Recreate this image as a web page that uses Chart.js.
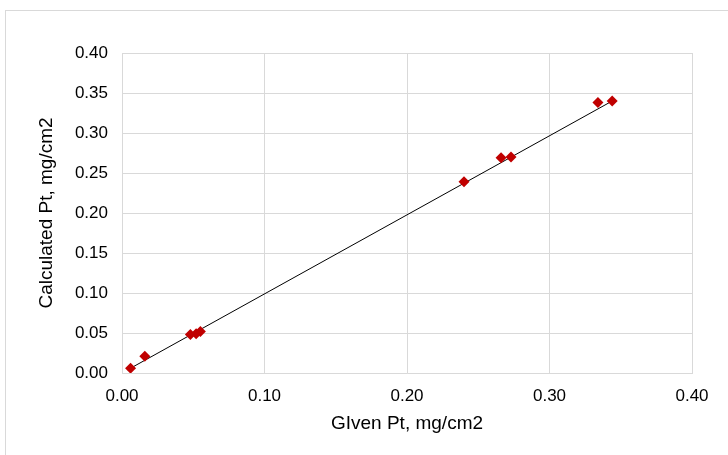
<!DOCTYPE html>
<html>
<head>
<meta charset="utf-8">
<script src="https://cdn.jsdelivr.net/npm/chart.js@4.4.0/dist/chart.umd.min.js"></script>
<style>
  html, body { margin: 0; padding: 0; background: #fff; }
  body { width: 728px; height: 455px; position: relative; overflow: hidden; }
  #frame { position: absolute; left: 5px; top: 10px; width: 760px; height: 480px; border: 1px solid #d9d9d9; }
  #wrap { position: absolute; left: 0; top: 0; width: 728px; height: 455px; }
</style>
</head>
<body>
<div id="frame"></div>
<div id="wrap"><canvas id="chart"></canvas></div>
<script>
const givenPt = [0.006, 0.016, 0.048, 0.052, 0.055, 0.240, 0.266, 0.273, 0.334, 0.344];
const calcPt  = [0.006, 0.021, 0.048, 0.049, 0.052, 0.239, 0.269, 0.270, 0.338, 0.340];

// 추세선 끝점
const trendX = [0.004, 0.344];
const trendY = [0.004, 0.340];

const xTicks = [0, 0.1, 0.2, 0.3, 0.4];
const yTicks = [0, 0.05, 0.1, 0.15, 0.2, 0.25, 0.3, 0.35, 0.4];

const points = givenPt.map((x, i) => ({ x: x, y: calcPt[i] }));
const trend = trendX.map((x, i) => ({ x: x, y: trendY[i] }));

const tickFont = { family: '"Liberation Sans", Arial, sans-serif', size: 17 };
const titleFont = { family: '"Liberation Sans", Arial, sans-serif', size: 19 };

new Chart(document.getElementById('chart'), {
    type: 'scatter',
    data: {
        datasets: [
            {
                label: 'Trend',
                data: trend,
                showLine: true,
                borderColor: '#000000',
                borderWidth: 1,
                pointRadius: 0,
                order: 2
            },
            {
                label: 'Pt',
                data: points,
                pointStyle: 'rectRot',
                pointRadius: 5.5,
                pointHoverRadius: 5.5,
                backgroundColor: '#C00000',
                borderColor: '#C00000',
                borderWidth: 0,
                order: 1
            }
        ]
    },
    options: {
        responsive: true,
        maintainAspectRatio: false,
        animation: false,
        layout: { padding: { left: 0, top: 53, right: 36, bottom: 0 } },
        plugins: {
            legend: { display: false },
            tooltip: { enabled: false }
        },
        scales: {
            x: {
                type: 'linear',
                min: 0,
                max: 0.4,
                afterBuildTicks: function(scale) {
                    scale.ticks = xTicks.map(v => ({ value: v }));
                },
                afterFit: function(scale) { scale.height = 82; },
                grid: { color: '#d9d9d9', lineWidth: 1, drawTicks: false },
                border: { color: '#d9d9d9' },
                ticks: {
                    color: '#000',
                    font: tickFont,
                    padding: 13,
                    callback: v => v.toFixed(2)
                },
                title: {
                    display: true,
                    text: 'GIven Pt, mg/cm2',
                    color: '#000',
                    font: titleFont,
                    padding: { top: 4, bottom: 20 }
                }
            },
            y: {
                type: 'linear',
                min: 0,
                max: 0.4,
                afterBuildTicks: function(scale) {
                    scale.ticks = yTicks.map(v => ({ value: v }));
                },
                afterFit: function(scale) { scale.width = 122; },
                grid: { color: '#d9d9d9', lineWidth: 1, drawTicks: false },
                border: { color: '#d9d9d9' },
                ticks: {
                    color: '#000',
                    font: tickFont,
                    padding: 14,
                    callback: v => v.toFixed(2)
                },
                title: {
                    display: true,
                    text: 'Calculated Pt, mg/cm2',
                    color: '#000',
                    font: titleFont,
                    padding: { top: 35, bottom: 4 }
                }
            }
        }
    }
});
</script>
</body>
</html>
